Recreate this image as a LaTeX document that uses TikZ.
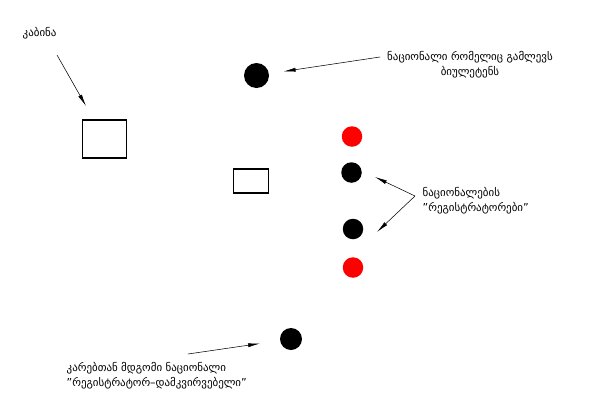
\documentclass[tikz,border=0pt]{standalone}
\usepackage{fontspec}
\setmainfont{DejaVu Sans}
\usetikzlibrary{positioning, arrows.meta}
\definecolor{ink}{HTML}{000000}
\definecolor{marked}{HTML}{FF0000}

\begin{document}
\begin{tikzpicture}[x=0.75pt, y=-0.75pt, font=\fontsize{8.2}{11.2}\selectfont,
    booth/.style={draw=ink, thick, inner sep=0pt},
    member/.style={circle, fill=ink, inner sep=0pt, minimum size=20.5*0.75pt},
    pointer/.style={-{Latex[length=9pt, width=3pt]}, ink}]
  \useasboundingbox (0,0) rectangle (597,415);

  % Booths
  \node[booth, minimum width=44*0.75pt, minimum height=38*0.75pt] (boothA) at (104.5,139) {};
  \node[booth, minimum width=35*0.75pt, minimum height=24*0.75pt] (boothB) at (251,181) {};
  \node[anchor=west] (boothlabel) at (18,33) {კაბინა};
  \coordinate (boothtail) at (57,55);
  \coordinate (boothtip) at (86,106);
  \draw[pointer] (boothtail) -- (boothtip);

  % Member handing out ballots
  \node[member, minimum size=25*0.75pt] (issuer) at (256.5,75.5) {};
  \node[align=center] (issuerlabel) at (470,65) {ნაციონალი რომელიც გამლევს\\ბიულეტენს};
  \coordinate (issuertail) at (380,57);
  \draw[pointer, shorten >=11pt] (issuertail) -- (issuer);

  % Registrars
  \node[member, fill=marked] (redA) at (352,136.5) {};
  \node[member] (regA) at (351.5,172.5) {};
  \node[member] (regB) at (353,229) {};
  \node[member, fill=marked] (redB) at (353,267.5) {};
  \node[align=left, anchor=west] (reglabel) at (418,201) {ნაციონალების\\\symbol{34}რეგისტრატორები\symbol{34}};
  \coordinate (regjoin) at (415,196);
  \coordinate (regtipA) at (375,177);
  \coordinate (regtipB) at (377,232);
  \draw[pointer] (regjoin) -- (regtipA);
  \draw[pointer] (regjoin) -- (regtipB);

  % Member at the door
  \node[member, minimum size=22*0.75pt] (doorman) at (291,339) {};
  \node[align=left, anchor=west] (doorlabel) at (62,375.5) {კარებთან მდგომი ნაციონალი\\\symbol{34}რეგისტრატორ--დამკვირვებელი\symbol{34}};
  \coordinate (doortail) at (188,354);
  \draw[pointer, shorten >=15pt] (doortail) -- (doorman);
\end{tikzpicture}
\end{document}
